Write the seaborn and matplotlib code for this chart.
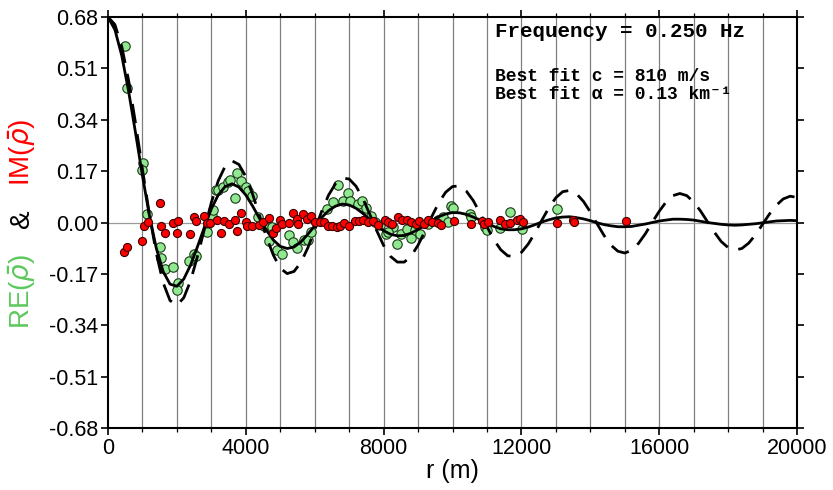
import numpy as np
import pandas as pd
import matplotlib
matplotlib.use('Agg')
import matplotlib.pyplot as plt
from matplotlib.ticker import MultipleLocator, FormatStrFormatter
import seaborn as sns

# theoretical curves, every 200 m
r_curve = list(range(0, 20001, 200))
dashed_vals = [0.680, 0.655, 0.582, 0.469, 0.328, 0.176, 0.028, -0.101, -0.199, -0.258,
               -0.274, -0.249, -0.192, -0.111, -0.021, 0.066, 0.138, 0.186, 0.204, 0.192,
               0.152, 0.093, 0.022, -0.048, -0.108, -0.151, -0.169, -0.162, -0.132, -0.084,
               -0.025, 0.036, 0.090, 0.128, 0.147, 0.144, 0.120, 0.079, 0.027, -0.027,
               -0.076, -0.112, -0.131, -0.131, -0.111, -0.075, -0.029, 0.020, 0.065, 0.100,
               0.119, 0.121, 0.104, 0.073, 0.031, -0.014, -0.057, -0.090, -0.110, -0.113,
               -0.099, -0.071, -0.033, 0.009, 0.049, 0.082, 0.102, 0.106, 0.095, 0.070,
               0.035, -0.005, -0.043, -0.075, -0.095, -0.101, -0.092, -0.069, -0.037, 0.001,
               0.037, 0.068, 0.089, 0.096, 0.089, 0.068, 0.038, 0.003, -0.032, -0.063,
               -0.083, -0.091, -0.086, -0.068, -0.040, -0.006, 0.028, 0.057, 0.078, 0.087,
               0.083]
solid_vals = [0.680, 0.638, 0.552, 0.433, 0.296, 0.155, 0.024, -0.084, -0.162, -0.204,
              -0.211, -0.187, -0.140, -0.079, -0.015, 0.045, 0.091, 0.119, 0.128, 0.117,
              0.091, 0.054, 0.013, -0.026, -0.058, -0.079, -0.086, -0.081, -0.064, -0.039,
              -0.011, 0.016, 0.039, 0.054, 0.061, 0.058, 0.047, 0.030, 0.010, -0.010,
              -0.027, -0.039, -0.044, -0.043, -0.035, -0.023, -0.009, 0.006, 0.019, 0.028,
              0.033, 0.032, 0.027, 0.018, 0.008, -0.003, -0.013, -0.021, -0.024, -0.024,
              -0.021, -0.015, -0.007, 0.002, 0.009, 0.015, 0.018, 0.019, 0.016, 0.012,
              0.006, -0.001, -0.007, -0.011, -0.014, -0.014, -0.013, -0.009, -0.005, 0.000,
              0.005, 0.008, 0.011, 0.011, 0.010, 0.008, 0.004, 0.000, -0.003, -0.006,
              -0.008, -0.009, -0.008, -0.006, -0.004, -0.001, 0.002, 0.005, 0.006, 0.007,
              0.006]

# measured real part (green)
re_r = [493, 542, 1006, 987, 1123, 1510, 1548, 1645, 1877, 2022, 1993, 2361, 2506, 2540,
        2865, 3010, 3058, 3135, 3203, 3348, 3474, 3542, 3745, 3687, 3861, 3996, 4074, 4171,
        4364, 4529, 4683, 4771, 4897, 5042, 5264, 5381, 5477, 5690, 5816, 5893, 6348, 6542,
        6668, 6832, 6977, 7025, 7267, 7383, 7490, 7626, 7751, 7896, 8061, 8283, 8380, 8119,
        8506, 8671, 8796, 8912, 9057, 9298, 9589, 9734, 9879, 9957, 10025, 10509, 10538,
        10944, 10993, 11380, 11670, 12010, 13024]
re_v = [0.585, 0.445, 0.198, 0.175, 0.027, -0.082, -0.117, -0.153, -0.147, -0.200, -0.223,
        -0.126, -0.104, -0.112, -0.030, 0.023, 0.042, 0.108, 0.106, 0.119, 0.134, 0.139,
        0.164, 0.081, 0.136, 0.117, 0.103, 0.087, 0.018, -0.013, -0.062, -0.015, -0.091,
        -0.104, -0.043, -0.065, -0.084, -0.057, -0.057, -0.032, 0.045, 0.067, 0.123, 0.071,
        0.098, 0.071, 0.062, 0.070, 0.049, 0.020, 0.001, -0.007, -0.038, -0.016, -0.071,
        -0.032, -0.038, -0.021, -0.051, -0.024, -0.038, -0.004, 0.009, 0.018, 0.001, 0.053,
        0.049, 0.029, 0.018, -0.016, -0.024, -0.019, 0.036, -0.021, 0.045]

# measured imaginary part (red)
im_r = [474, 542, 996, 1035, 1151, 1510, 1539, 1655, 1877, 1993, 2041, 2381, 2497, 2555,
        2797, 2865, 2961, 3155, 3271, 3377, 3522, 3687, 3755, 3861, 3996, 4045, 4171, 4393,
        4509, 4683, 4780, 4877, 4993, 5042, 5264, 5381, 5477, 5525, 5670, 5787, 5884, 6009,
        6154, 6270, 6396, 6512, 6639, 6735, 6851, 7006, 7171, 7296, 7412, 7539, 7703, 7829,
        8041, 8137, 8254, 8409, 8525, 8670, 8796, 8932, 9038, 9183, 9298, 9396, 9570, 9667,
        10044, 10528, 10848, 10915, 11040, 11380, 11525, 11670, 11863, 11960, 12038, 13024,
        13508, 13528, 15028]
im_v = [-0.096, -0.080, -0.062, -0.013, 0.001, 0.065, -0.010, -0.035, 0.000, -0.035, 0.004,
        -0.039, 0.019, 0.006, 0.020, -0.001, -0.002, 0.007, -0.034, 0.004, -0.006, 0.007,
        -0.029, 0.033, 0.003, -0.012, -0.011, -0.007, 0.003, 0.016, -0.035, -0.018, 0.007,
        -0.004, -0.002, 0.032, 0.010, -0.004, 0.029, 0.010, 0.020, 0.001, 0.001, 0.001,
        -0.010, -0.012, -0.015, -0.011, -0.002, -0.011, 0.004, 0.004, 0.009, 0.002, 0.004,
        -0.007, 0.009, 0.001, -0.004, 0.018, 0.009, 0.007, 0.003, -0.004, 0.004, -0.004,
        0.009, 0.001, -0.002, -0.007, 0.004, -0.004, 0.004, -0.004, 0.001, 0.007, -0.004,
        -0.002, 0.007, 0.012, 0.001, -0.001, 0.007, 0.001, 0.004]

sns.set_style('ticks', rc={'text.color': 'black', 'axes.labelcolor': 'black',
                           'xtick.color': 'black', 'ytick.color': 'black',
                           'axes.edgecolor': 'black'})
plt.rcParams['font.family'] = ['Liberation Sans Narrow', 'Liberation Sans', 'DejaVu Sans']
plt.rcParams['xtick.direction'] = 'out'
plt.rcParams['ytick.direction'] = 'out'

curves = pd.DataFrame({'r': r_curve, 'dashed': dashed_vals, 'solid': solid_vals})
re_df = pd.DataFrame({'r': re_r, 'v': re_v})
im_df = pd.DataFrame({'r': im_r, 'v': im_v})

fig = plt.figure(figsize=(8.33, 4.9), dpi=100)
ax = fig.add_axes([108 / 833, 1 - 428 / 490, 689 / 833, 411 / 490])

for xg in range(1000, 20000, 1000):
    ax.axvline(xg, color='#808080', lw=0.9, zorder=0)
ax.axhline(0, color='#999999', lw=0.9, zorder=0)

sns.scatterplot(data=re_df, x='r', y='v', ax=ax, color='#90e890', edgecolor='#1a3a1a',
                linewidth=0.8, s=46, zorder=3)
sns.lineplot(data=curves, x='r', y='dashed', ax=ax, color='black', lw=2.0,
             zorder=4).lines[-1].set_dashes([7, 4])
sns.lineplot(data=curves, x='r', y='solid', ax=ax, color='black', lw=2.0, zorder=4)
sns.scatterplot(data=im_df, x='r', y='v', ax=ax, color='#ff0000', edgecolor='#3a0000',
                linewidth=0.8, s=34, zorder=5)

ax.set_xlim(0, 20000)
ax.set_ylim(-0.68, 0.68)
ax.set_yticks(np.arange(-0.68, 0.681, 0.17))
ax.yaxis.set_major_formatter(FormatStrFormatter('%.2f'))
ax.xaxis.set_major_locator(MultipleLocator(4000))
ax.xaxis.set_minor_locator(MultipleLocator(1000))
ax.tick_params(axis='both', which='major', labelsize=15.5, length=5, width=1.2,
               top=True, right=True, pad=2)
ax.tick_params(axis='x', which='minor', length=3, width=0.9, top=True)
for sp in ax.spines.values():
    sp.set_visible(True)
    sp.set_linewidth(1.5)

ax.set_xlabel('r (m)', fontsize=18, labelpad=0)
ax.set_ylabel('')

fig.text(22 / 833, 1 - 291 / 490, r'RE($\bar{\rho}$)', color='#5cc85c', fontsize=20,
         rotation=90, ha='center', va='center')
fig.text(22 / 833, 1 - 219 / 490, '&', color='black', fontsize=20,
         rotation=90, ha='center', va='center')
fig.text(22 / 833, 1 - 152 / 490, r'IM($\bar{\rho}$)', color='#ff0000', fontsize=20,
         rotation=90, ha='center', va='center')

mono = ['Liberation Mono', 'DejaVu Sans Mono']
ax.text(0.5617, 0.964, 'Frequency = 0.250 Hz', transform=ax.transAxes, family=mono,
        fontweight='bold', fontsize=15, va='center', ha='left')
ax.text(0.5617, 0.856, 'Best fit c = 810 m/s', transform=ax.transAxes, family=mono,
        fontweight='bold', fontsize=13, va='center', ha='left')
ax.text(0.5617, 0.812, 'Best fit α = 0.13 km⁻¹', transform=ax.transAxes,
        family=mono, fontweight='bold', fontsize=13, va='center', ha='left')

fig.savefig('out.png', dpi=100)
